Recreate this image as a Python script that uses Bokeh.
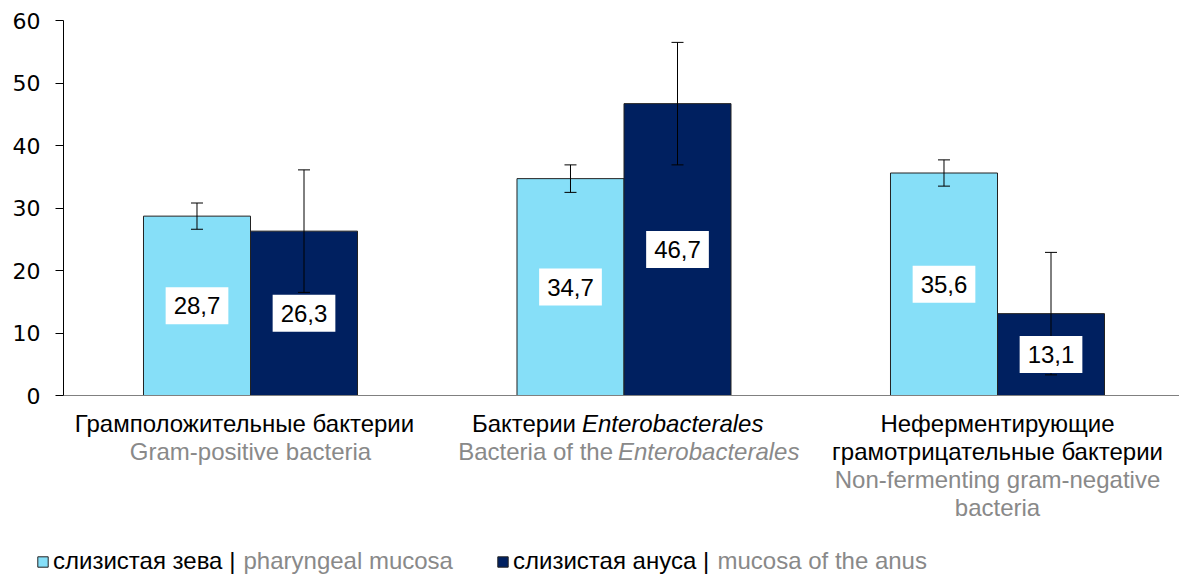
from bokeh.plotting import figure
from bokeh.layouts import column
from bokeh.models import (Range1d, ColumnDataSource, Whisker, TeeHead, Label,
                          Legend, LegendItem, FixedTicker)
from bokeh.transform import dodge
from bokeh.core.properties import value
from bokeh.embed import file_html
from bokeh.resources import INLINE

# ---------------- data ----------------
cat_ru = ["Грамположительные бактерии", "Бактерии Enterobacterales",
          "Неферментирующие\nграмотрицательные бактерии"]
cat_en = ["Gram-positive bacteria", "Bacteria of the Enterobacterales",
          "Non-fermenting gram-negative\nbacteria"]
series_names_ru = ["слизистая зева |", "слизистая ануса |"]
series_names_en = ["pharyngeal mucosa", "mucosa of the anus"]
pharyngeal = [28.7, 34.7, 35.6]
pharyngeal_err = [2.1, 2.2, 2.1]
anus = [26.3, 46.7, 13.1]
anus_err = [9.8, 9.8, 9.8]
y_ticks = [0, 10, 20, 30, 40, 50, 60]

# ---------------- style ----------------
LIGHT = "#86DFF8"
DARK = "#002060"
GRAY = "#898989"
EDGE = "#222222"
FONT = "Liberation Sans"
FS = "24px"
BW = 0.2865

W = 1179
HA, HB = 536, 38
FL, FT = 63, 20
PX_Y = 6.25                    # pixels per unit on the value axis
ZERO_PX = 395                  # page row of value 0
SPACING = 373.5                # pixels between category centres
C0 = 250                       # page column of first category centre
X0 = -(C0 - FL) / SPACING
X1 = (W - C0) / SPACING
Y1 = 60
Y0 = -(HA - ZERO_PX) / PX_Y


def fmt(v):
    return f"{v:.1f}".replace(".", ",")


idx = list(range(len(cat_ru)))


def make_src(vals, errs):
    return ColumnDataSource(dict(
        x=idx, top=vals,
        lower=[v - e for v, e in zip(vals, errs)],
        upper=[v + e for v, e in zip(vals, errs)],
        ly=[v / 2 for v in vals], label=[fmt(v) for v in vals]))


src_ph = make_src(pharyngeal, pharyngeal_err)
src_an = make_src(anus, anus_err)

p = figure(width=W, height=HA, output_backend="svg", toolbar_location=None,
           x_range=Range1d(X0, X1), y_range=Range1d(Y0, Y1),
           min_border_left=FL, min_border_top=FT, min_border_bottom=0,
           min_border_right=0)
p.frame_align = False
p.outline_line_color = None
p.xgrid.visible = False
p.ygrid.visible = False

p.vbar(x=dodge("x", -BW / 2), top="top", width=BW, source=src_ph,
       fill_color=LIGHT, line_color=EDGE, line_width=1)
p.vbar(x=dodge("x", BW / 2), top="top", width=BW, source=src_an,
       fill_color=DARK, line_color=EDGE, line_width=1)

for src, off in ((src_ph, -BW / 2), (src_an, BW / 2)):
    w = Whisker(source=src, base=dodge("x", off), upper="upper", lower="lower",
                line_color="black", line_width=1, level="annotation",
                upper_head=TeeHead(size=12, line_color="black", line_width=1),
                lower_head=TeeHead(size=12, line_color="black", line_width=1))
    p.add_layout(w)
    t = p.text(x=dodge("x", off), y="ly", text="label", source=src,
               text_align="center", text_baseline="middle",
               text_font=value(FONT), text_font_size="24px", text_color="black",
               background_fill_color="white", padding=(8, 10))
    t.level = "overlay"

# axes
p.yaxis.ticker = FixedTicker(ticks=y_ticks)
p.yaxis.bounds = (0, 60)
p.yaxis.minor_tick_line_color = None
p.yaxis.major_tick_out = 8
p.yaxis.major_tick_in = 0
p.yaxis.axis_line_color = "black"
p.yaxis.major_tick_line_color = "black"
p.yaxis.major_label_text_font = "DejaVu Sans"
p.yaxis.major_label_text_font_size = "22px"
p.yaxis.major_label_text_color = "black"
p.yaxis.major_label_standoff = 15

p.xaxis.fixed_location = 0
p.xaxis.ticker = FixedTicker(ticks=[])
p.xaxis.minor_tick_line_color = None
p.xaxis.major_tick_line_color = None
p.xaxis.axis_line_color = "#808080"
p.xaxis.major_label_text_font_size = "0px"

# category labels
ROW = 28
FIRST = 28


def row_y(k):
    return -(FIRST + ROW * k) / PX_Y


def add_label(x, k, text, color="black", style="normal", align="center", xoff=0):
    p.add_layout(Label(x=x, y=row_y(k), text=text, x_offset=xoff,
                       text_align=align, text_baseline="middle",
                       text_font=FONT, text_font_size=FS,
                       text_color=color, text_font_style=style))


add_label(0, 0, cat_ru[0], xoff=-6)
add_label(0, 1, cat_en[0], GRAY)
ru1 = cat_ru[1].split(" ")
en1 = cat_en[1].rsplit(" ", 1)
add_label(1, 0, ru1[0], align="right", xoff=-48)
add_label(1, 0, ru1[1], style="italic", align="left", xoff=-42)
add_label(1, 1, en1[0], GRAY, align="right", xoff=-11)
add_label(1, 1, en1[1], GRAY, style="italic", align="left", xoff=-6)
k = 0
for line in cat_ru[2].split("\n"):
    add_label(2, k, line)
    k += 1
for line in cat_en[2].split("\n"):
    add_label(2, k, line, GRAY)
    k += 1

# ---------------- legend strip ----------------
q = figure(width=W, height=HB, output_backend="svg", toolbar_location=None,
           x_range=Range1d(0, W), y_range=Range1d(0, HB),
           x_axis_location=None, y_axis_location=None,
           min_border_left=0, min_border_right=0, min_border_top=0,
           min_border_bottom=0)
q.frame_align = False
q.outline_line_color = None
q.xgrid.visible = False
q.ygrid.visible = False
# key glyphs for the legend (kept far outside the visible strip)
key_ph = q.vbar(x=[-5000], top=[-5000], bottom=[-5001], width=1,
                fill_color=LIGHT, line_color=EDGE)
key_an = q.vbar(x=[-5000], top=[-5000], bottom=[-5001], width=1,
                fill_color=DARK, line_color=EDGE)

LEG_MID = 574 - 561           # legend centre, from the bottom of the strip
for rend, name, lx in ((key_ph, series_names_ru[0], 36), (key_an, series_names_ru[1], 496)):
    lg = Legend(items=[LegendItem(label=name, renderers=[rend])],
                location=(lx, LEG_MID - 14), orientation="horizontal",
                glyph_width=13, glyph_height=13, label_standoff=4,
                padding=0, margin=0, spacing=0,
                border_line_color=None, background_fill_alpha=0,
                label_text_font=FONT, label_text_font_size=FS,
                label_text_color="black", label_height=20)
    q.add_layout(lg)

for name, gx in zip(series_names_en, (243, 717)):
    q.add_layout(Label(x=gx, y=LEG_MID + 1, text=name, text_align="left",
                       text_baseline="middle", text_font=FONT,
                       text_font_size=FS, text_color=GRAY))

layout = column(p, q, spacing=0)
open("out.html", "w").write(file_html(layout, INLINE))
